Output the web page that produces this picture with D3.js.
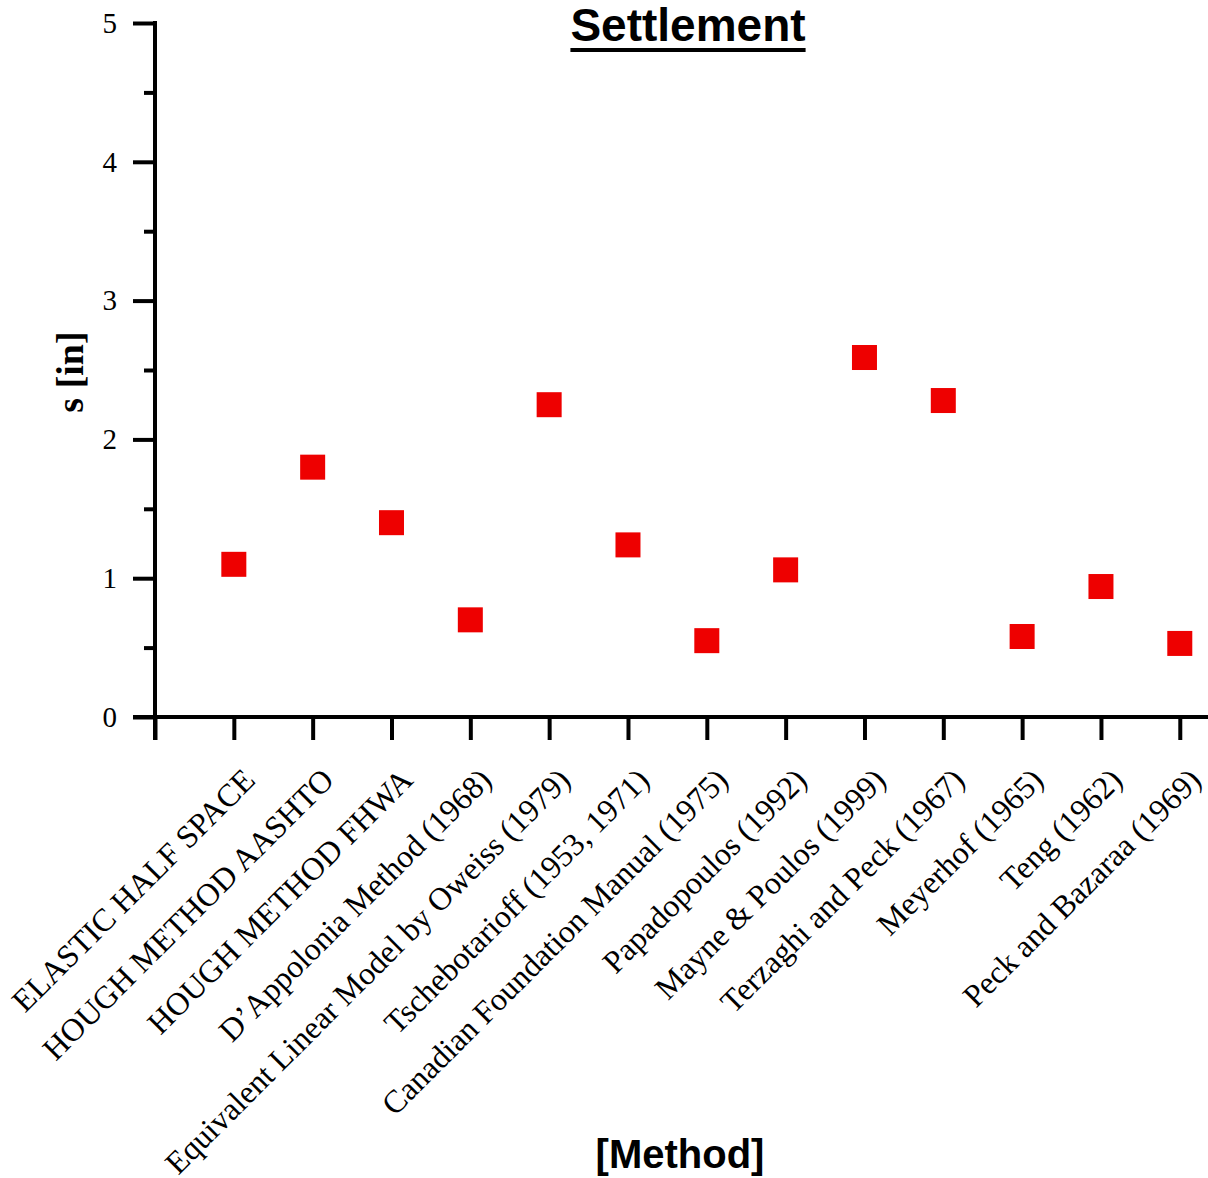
<!DOCTYPE html>
<html>
<head>
<meta charset="utf-8">
<script src="https://cdn.jsdelivr.net/npm/d3@7"></script>
<style>
  html, body { margin: 0; padding: 0; background: #fff; }
  svg { display: block; }
</style>
</head>
<body>
<svg id="chart" width="1208" height="1178"></svg>
<script>
// Settlement estimates by method
const methods = [
  "ELASTIC HALF SPACE",
  "HOUGH METHOD AASHTO",
  "HOUGH METHOD FHWA",
  "D\u2019Appolonia Method (1968)",
  "Equivalent Linear Model by Oweiss (1979)",
  "Tschebotarioff (1953, 1971)",
  "Canadian Foundation Manual (1975)",
  "Papadopoulos (1992)",
  "Mayne & Poulos (1999)",
  "Terzaghi and Peck (1967)",
  "Meyerhof (1965)",
  "Teng (1962)",
  "Peck and Bazaraa (1969)"
];
const settlement = [1.10, 1.80, 1.40, 0.70, 2.25, 1.24, 0.55, 1.06, 2.59, 2.28, 0.58, 0.94, 0.53];
const yMajorTicks = [0, 1, 2, 3, 4, 5];
const yMinorTicks = [0.5, 1.5, 2.5, 3.5, 4.5];

const svg = d3.select("#chart");
const x0 = 155, y0 = 717, yTop = 23, step = 78.83;

const x = d3.scaleLinear().domain([0, methods.length + 1]).range([x0, x0 + step * (methods.length + 1)]);
const y = d3.scaleLinear().domain([0, 5]).range([y0, yTop]);

const serif = "'Liberation Serif', 'Times New Roman', serif";
const sans = "'Liberation Sans', Arial, sans-serif";

// Y axis: major ticks with labels, minor ticks without
const yAxis = svg.append("g").attr("transform", `translate(${x0},0)`)
  .call(d3.axisLeft(y).tickValues(yMajorTicks).tickSize(22).tickPadding(16).tickFormat(d3.format("d")));
yAxis.select(".domain").remove();
yAxis.selectAll(".tick line").attr("stroke", "#000").attr("stroke-width", 4);
yAxis.selectAll(".tick text").attr("font-family", serif).attr("font-size", 29).attr("fill", "#000");

const yMinor = svg.append("g").attr("transform", `translate(${x0},0)`)
  .call(d3.axisLeft(y).tickValues(yMinorTicks).tickSize(11).tickFormat(""));
yMinor.select(".domain").remove();
yMinor.selectAll(".tick line").attr("stroke", "#000").attr("stroke-width", 4);

svg.append("line")
  .attr("x1", x0).attr("x2", x0)
  .attr("y1", y(5) - 2).attr("y2", y0 + 23)
  .attr("stroke", "#000").attr("stroke-width", 4);

// X axis: one tick per method plus the origin tick
const xAxis = svg.append("g").attr("transform", `translate(0,${y0})`)
  .call(d3.axisBottom(x).tickValues(d3.range(0, methods.length + 1)).tickSize(23).tickFormat(""));
xAxis.select(".domain").remove();
xAxis.selectAll(".tick line").attr("stroke", "#000").attr("stroke-width", 4);

svg.append("line")
  .attr("x1", x0 - 22).attr("x2", 1208)
  .attr("y1", y0).attr("y2", y0)
  .attr("stroke", "#000").attr("stroke-width", 4);

// Rotated method labels
svg.append("g").selectAll("text")
  .data(methods)
  .join("text")
  .attr("transform", (d, i) => `translate(${x(i + 1) + 23},${y0 + 65}) rotate(-45)`)
  .attr("text-anchor", "end")
  .attr("font-family", serif)
  .attr("font-size", 32)
  .attr("fill", "#000")
  .text(d => d);

// Square markers
const ms = 25;
svg.append("g").selectAll("rect")
  .data(settlement)
  .join("rect")
  .attr("x", (d, i) => x(i + 1) - ms / 2)
  .attr("y", d => y(d) - ms / 2)
  .attr("width", ms).attr("height", ms)
  .attr("fill", "#ee0000");

// Title with underline
const title = svg.append("text")
  .attr("x", 688).attr("y", 41)
  .attr("text-anchor", "middle")
  .attr("font-family", sans).attr("font-weight", "bold").attr("font-size", 46)
  .attr("fill", "#000")
  .text("Settlement");
const tb = title.node().getBBox();
svg.append("line")
  .attr("x1", tb.x).attr("x2", tb.x + tb.width)
  .attr("y1", 50).attr("y2", 50)
  .attr("stroke", "#000").attr("stroke-width", 4);

// Axis titles
svg.append("text")
  .attr("transform", "translate(83,372) rotate(-90)")
  .attr("text-anchor", "middle")
  .attr("font-family", serif).attr("font-weight", "bold").attr("font-size", 38)
  .attr("fill", "#000")
  .text("s [in]");

svg.append("text")
  .attr("x", 680).attr("y", 1168)
  .attr("text-anchor", "middle")
  .attr("font-family", sans).attr("font-weight", "bold").attr("font-size", 40)
  .attr("fill", "#000")
  .text("[Method]");
</script>
</body>
</html>
